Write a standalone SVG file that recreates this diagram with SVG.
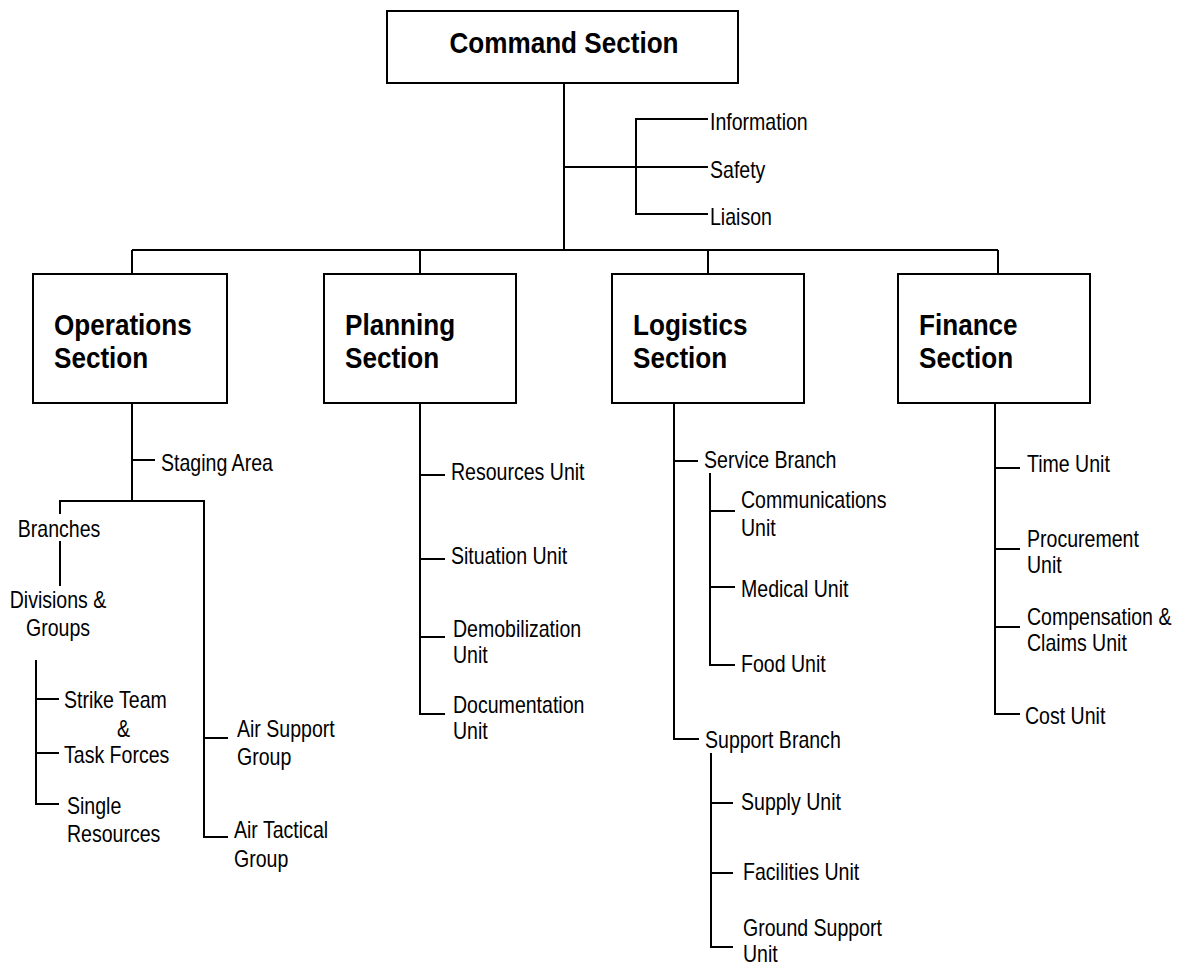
<svg xmlns="http://www.w3.org/2000/svg" width="1177" height="969" viewBox="0 0 1177 969">
<style>
.box{fill:#fff;stroke:#000;stroke-width:2}
.ln{fill:none;stroke:#000;stroke-width:2}
.h{font-family:'Liberation Sans',Arial,sans-serif;font-weight:bold;font-size:30px;fill:#000}
.t{font-family:'Liberation Sans',Arial,sans-serif;font-size:23px;fill:#000}
</style>
<rect width="1177" height="969" fill="#fff"/>
<g id="connectors" class="ln">
<path d="M564 83V250M132 250H998M132 250V274M420 250V274M708 250V274M998 250V274"/>
<path d="M564 167H708M708 119H636V214H708"/>
<path d="M132 403V501M132 460H155M60 514V501H204V837H228M204 738H228M60 541V586M36 660V804H59M36 699H59M36 753H59"/>
<path d="M420 403V714H445M420 475H445M420 559H445M420 637H445"/>
<path d="M674 403V739H699M674 461H698M710 473V665H735M710 511H735M710 587H735M711 753V947H733M711 803H733M711 873H733"/>
<path d="M995 403V714H1020M995 468H1020M995 549H1020M995 627H1020"/>
</g>
<g id="command"><rect class="box" x="387" y="11" width="351" height="72"/><text class="h" text-anchor="middle" transform="translate(564,53) scale(0.87,1)">Command Section</text></g>
<g id="information"><text class="t" transform="translate(710,130) scale(0.85,1)">Information</text></g>
<g id="safety"><text class="t" transform="translate(710,178) scale(0.85,1)">Safety</text></g>
<g id="liaison"><text class="t" transform="translate(710,225) scale(0.85,1)">Liaison</text></g>
<g id="operations"><rect class="box" x="33" y="274" width="194" height="129"/><text class="h" transform="translate(54,335) scale(0.87,1)">Operations<tspan x="0" dy="33">Section</tspan></text></g>
<g id="planning"><rect class="box" x="324" y="274" width="192" height="129"/><text class="h" transform="translate(345,335) scale(0.87,1)">Planning<tspan x="0" dy="33">Section</tspan></text></g>
<g id="logistics"><rect class="box" x="612" y="274" width="192" height="129"/><text class="h" transform="translate(633,335) scale(0.87,1)">Logistics<tspan x="0" dy="33">Section</tspan></text></g>
<g id="finance"><rect class="box" x="898" y="274" width="192" height="129"/><text class="h" transform="translate(919,335) scale(0.87,1)">Finance<tspan x="0" dy="33">Section</tspan></text></g>
<g id="staging"><text class="t" transform="translate(161,471) scale(0.85,1)">Staging Area</text></g>
<g id="branches"><text class="t" text-anchor="middle" transform="translate(59,537) scale(0.85,1)">Branches</text></g>
<g id="divisions"><text class="t" text-anchor="middle" transform="translate(58,608) scale(0.85,1)">Divisions &amp;<tspan x="0" dy="28">Groups</tspan></text></g>
<g id="strike"><text class="t" transform="translate(64,708) scale(0.85,1)">Strike Team</text><text class="t" transform="translate(117,737) scale(0.85,1)">&amp;</text><text class="t" transform="translate(64,763) scale(0.85,1)">Task Forces</text></g>
<g id="single"><text class="t" transform="translate(67,814) scale(0.85,1)">Single<tspan x="0" dy="28">Resources</tspan></text></g>
<g id="airsupport"><text class="t" transform="translate(237,737) scale(0.85,1)">Air Support<tspan x="0" dy="28">Group</tspan></text></g>
<g id="airtactical"><text class="t" transform="translate(234,838) scale(0.85,1)">Air Tactical<tspan x="0" dy="29">Group</tspan></text></g>
<g id="resources"><text class="t" transform="translate(451,480) scale(0.85,1)">Resources Unit</text></g>
<g id="situation"><text class="t" transform="translate(451,564) scale(0.85,1)">Situation Unit</text></g>
<g id="demob"><text class="t" transform="translate(453,637) scale(0.85,1)">Demobilization<tspan x="0" dy="26">Unit</tspan></text></g>
<g id="documentation"><text class="t" transform="translate(453,713) scale(0.85,1)">Documentation<tspan x="0" dy="26">Unit</tspan></text></g>
<g id="service"><text class="t" transform="translate(704,468) scale(0.85,1)">Service Branch</text></g>
<g id="communications"><text class="t" transform="translate(741,508) scale(0.85,1)">Communications<tspan x="0" dy="28">Unit</tspan></text></g>
<g id="medical"><text class="t" transform="translate(741,597) scale(0.85,1)">Medical Unit</text></g>
<g id="food"><text class="t" transform="translate(741,672) scale(0.85,1)">Food Unit</text></g>
<g id="support"><text class="t" transform="translate(705,748) scale(0.85,1)">Support Branch</text></g>
<g id="supply"><text class="t" transform="translate(741,810) scale(0.85,1)">Supply Unit</text></g>
<g id="facilities"><text class="t" transform="translate(743,880) scale(0.85,1)">Facilities Unit</text></g>
<g id="ground"><text class="t" transform="translate(743,936) scale(0.85,1)">Ground Support<tspan x="0" dy="26">Unit</tspan></text></g>
<g id="time"><text class="t" transform="translate(1027,472) scale(0.85,1)">Time Unit</text></g>
<g id="procurement"><text class="t" transform="translate(1027,547) scale(0.85,1)">Procurement<tspan x="0" dy="26">Unit</tspan></text></g>
<g id="compensation"><text class="t" transform="translate(1027,625) scale(0.85,1)">Compensation &amp;<tspan x="0" dy="26">Claims Unit</tspan></text></g>
<g id="cost"><text class="t" transform="translate(1025,724) scale(0.85,1)">Cost Unit</text></g>
</svg>
